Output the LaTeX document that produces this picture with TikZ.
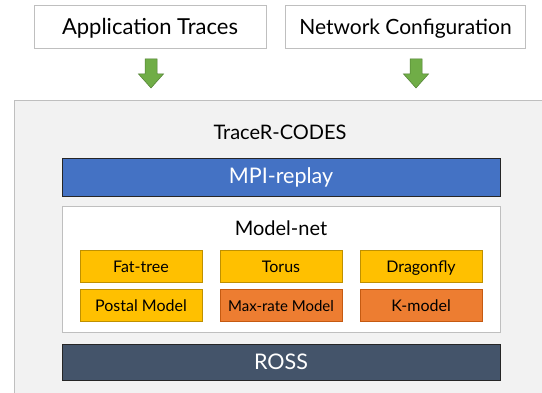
\documentclass[tikz,border=0pt]{standalone}
\usepackage{fontspec}
\setmainfont{Lato}
\definecolor{outerfill}{HTML}{F2F2F2}
\definecolor{outerline}{HTML}{BFBFBF}
\definecolor{mpiblue}{HTML}{4472C4}
\definecolor{rossgray}{HTML}{44546A}
\definecolor{ygold}{HTML}{FFC000}
\definecolor{ygoldline}{HTML}{BF9000}
\definecolor{orng}{HTML}{ED7D31}
\definecolor{orngline}{HTML}{C55A11}
\definecolor{agreen}{HTML}{70AD47}
\definecolor{agreenline}{HTML}{507E32}
\tikzset{
  inputbox/.style={draw=outerline, fill=white, line width=0.8pt, minimum width=232pt, minimum height=43pt, inner sep=0pt, text depth=0pt, font=\fontsize{22}{26}\selectfont},
  bandbox/.style={draw=black!85, line width=0.9pt, minimum width=438pt, inner sep=0pt, text=white, font=\fontsize{21.5}{25}\selectfont},
  modelbox/.style={minimum width=122pt, minimum height=32pt, inner sep=0pt, line width=0.7pt, text height=12.5pt, text depth=0pt, font=\fontsize{16}{19}\selectfont},
  ybox/.style={modelbox, fill=ygold, draw=ygoldline},
  obox/.style={modelbox, fill=orng, draw=orngline},
  greenarrow/.style={fill=agreen, draw=agreenline, line width=0.5pt},
}
\begin{document}
\begin{tikzpicture}[x=1pt,y=-1pt]
\useasboundingbox (0,0) rectangle (542,393);
% outer framework panel
\fill[outerfill] (14,101) rectangle (542,393);
\draw[outerline, line width=1pt] (14,393) -- (14,101) -- (542,101);
% inputs
\node[inputbox] (app) at (150,26.5) {Application Traces};
\node[inputbox, minimum width=240pt, font=\fontsize{21}{25}\selectfont] (net) at (405.5,26.5) {Network Configuration};
% block arrows
\coordinate (a1) at (151,59);
\coordinate (a2) at (416,59);
\foreach \c in {a1,a2}{
  \draw[greenarrow] (\c) ++(-6,0) -- ++(12,0) -- ++(0,15) -- ++(6.5,0) -- ++(-12.5,14) -- ++(-12.5,-14) -- ++(6.5,0) -- cycle;
}
% title
\node[font=\fontsize{20}{24}\selectfont] (title) at (280,132) {TraceR-CODES};
% MPI replay
\node[bandbox, fill=mpiblue, minimum height=38pt] (mpi) at (281,177) {MPI-replay};
% model-net
\node[draw=outerline, fill=white, line width=1pt, minimum width=438pt, minimum height=126pt, inner sep=0pt] (mnet) at (281,270) {};
\node[font=\fontsize{20}{24}\selectfont] (mnetlabel) at (281,228) {Model-net};
\node[ybox] (fat) at (141,266) {Fat-tree};
\node[ybox] (torus) at (281,266) {Torus};
\node[ybox] (dragon) at (421,266) {Dragonfly};
\node[ybox] (postal) at (141,305) {Postal Model};
\node[obox, font=\fontsize{15}{18}\selectfont] (maxrate) at (281,305) {Max-rate Model};
\node[obox] (kmodel) at (421,305) {K-model};
% ROSS
\node[bandbox, fill=rossgray, minimum height=36pt] (ross) at (281,362) {ROSS};
\end{tikzpicture}
\end{document}
